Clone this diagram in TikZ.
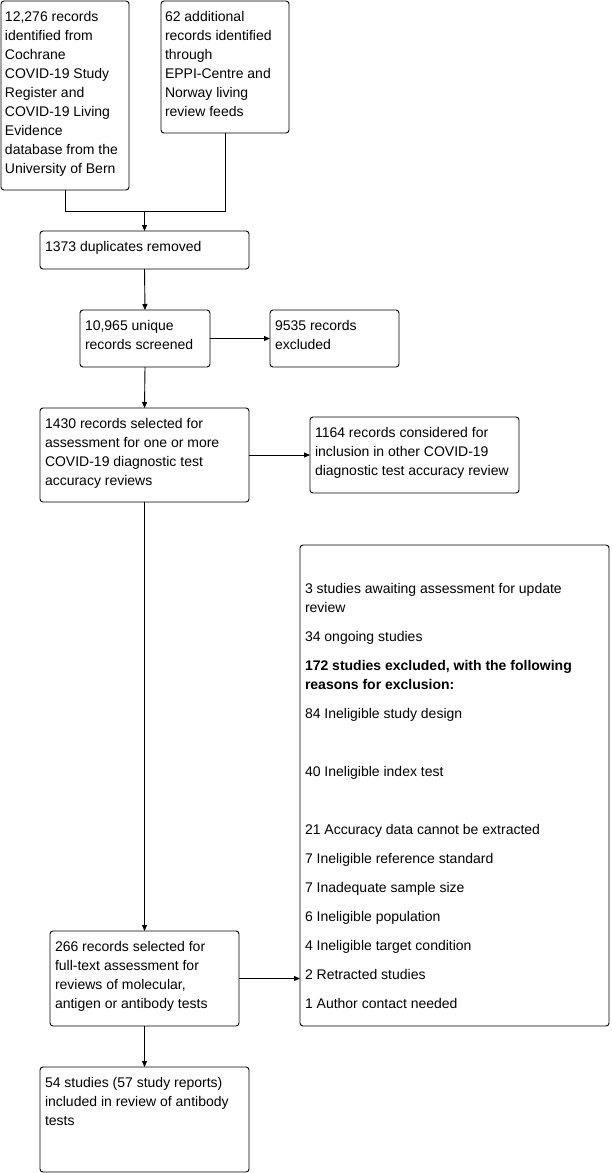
\documentclass[tikz,border=0pt]{standalone}
\usepackage{fontspec}
\setmainfont{Liberation Sans}
\usetikzlibrary{arrows.meta}
\begin{document}
\begin{tikzpicture}[x=1pt,y=-1pt,
  box/.style={draw=black,line width=0.9pt,rounded corners=3pt,anchor=north west,inner sep=0pt,outer sep=0pt},
  txt/.style={anchor=north west,inner sep=0pt,outer sep=0pt,align=left,font=\fontsize{14}{19}\selectfont},
  conn/.style={line width=0.9pt,draw=black},
  arr/.style={conn,-{Triangle[length=6pt,width=5pt]}}]
\useasboundingbox (0,0) rectangle (611,1173);
% boxes: left, top, width, height
\node[box,minimum width=128pt,minimum height=189pt] (A) at (1,1) {};
\node[box,minimum width=128pt,minimum height=132pt] (B) at (161,1) {};
\node[box,minimum width=209pt,minimum height=38pt] (C) at (40,231) {};
\node[box,minimum width=130pt,minimum height=57pt] (D) at (80,310) {};
\node[box,minimum width=129pt,minimum height=57pt] (E) at (270,310) {};
\node[box,minimum width=209pt,minimum height=94pt] (F) at (40,408) {};
\node[box,minimum width=209pt,minimum height=76pt] (G) at (310,417) {};
\node[box,minimum width=309pt,minimum height=481pt] (H) at (300,545) {};
\node[box,minimum width=189pt,minimum height=95pt] (I) at (50,931) {};
\node[box,minimum width=209pt,minimum height=105pt] (J) at (40,1067) {};
% texts (first baseline = top + 19.5; strut height 13.3)
\node[txt] (At) at (5,7.7) {\strut 12,276 records\\identified from\\Cochrane\\COVID-19 Study\\Register and\\COVID-19 Living\\Evidence\\database from the\\University of Bern};
\node[txt] (Bt) at (165,7.7) {\strut 62 additional\\records identified\\through\\EPPI-Centre and\\Norway living\\review feeds};
\node[txt] (Ct) at (45,237.7) {\strut 1373 duplicates removed};
\node[txt] (Dt) at (85,316.7) {\strut 10,965 unique\\records screened};
\node[txt] (Et) at (275,316.7) {\strut 9535 records\\excluded};
\node[txt] (Ft) at (45,414.7) {\strut 1430 records selected for\\assessment for one or more\\COVID-19 diagnostic test\\accuracy reviews};
\node[txt] (Gt) at (315,423.7) {\strut 1164 records considered for\\inclusion in other COVID-19\\diagnostic test accuracy review};
\node[txt] (Ht) at (305,580.2) {\strut 3 studies awaiting assessment for update\\review\\[10pt]
34 ongoing studies\\[10pt]
\textbf{172 studies excluded, with the following}\\
\textbf{reasons for exclusion:}\\[10pt]
84 Ineligible study design\\[39pt]
40 Ineligible index test\\[39pt]
21 Accuracy data cannot be extracted\\[10pt]
7 Ineligible reference standard\\[10pt]
7 Inadequate sample size\\[10pt]
6 Ineligible population\\[10pt]
4 Ineligible target condition\\[10pt]
2 Retracted studies\\[10pt]
1 Author contact needed};
\node[txt] (It) at (55,937.7) {\strut 266 records selected for\\full-text assessment for\\reviews of molecular,\\antigen or antibody tests};
\node[txt] (Jt) at (45,1073.7) {\strut 54 studies (57 study reports)\\included in review of antibody\\tests};
% connectors
\coordinate (M) at (C.north |- 0,211);
\draw[conn] (A.south) |- (M);
\draw[conn] (B.south) |- (M);
\draw[arr] (M) -- (C.north);
\draw[arr] (C.south) -- (D.north);
\draw[arr] (D.east) -- (E.west);
\draw[arr] (D.south) -- (F.north);
\draw[arr] (F.east) -- (G.west);
\draw[arr] (F.south) -- (I.north);
\draw[arr] (I.east) -- (I.east -| H.west);
\draw[arr] (I.south) -- (J.north);
\end{tikzpicture}
\end{document}
